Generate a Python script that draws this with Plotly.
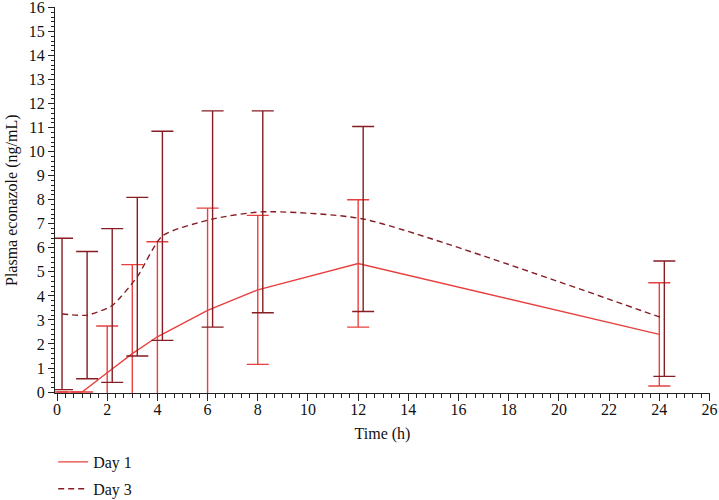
import plotly.graph_objects as go

# Data
time_day1 = [0, 1, 2, 3, 4, 6, 8, 12, 24]
mean_day1 = [0, 0, 0.8, 1.6, 2.3, 3.4, 4.25, 5.35, 2.4]
sd_day1 = [0, 0, 1.95, 3.7, 3.95, 4.25, 3.1, 2.65, 2.15]

time_day3 = [0.2, 1.2, 2.2, 3.2, 4.2, 6.2, 8.2, 12.2, 24.2]
mean_day3 = [3.25, 3.2, 3.6, 4.8, 6.5, 7.2, 7.5, 7.2, 3.05]
sd_day3 = [3.15, 2.65, 3.2, 3.3, 4.35, 4.5, 4.2, 3.85, 2.4]

x_ticks = list(range(0, 27, 2))
y_ticks = list(range(0, 17))

RED = "#e8403f"
DARK = "#861d23"
FONT = "Liberation Serif"

fig = go.Figure()
fig.add_trace(go.Scatter(
    x=time_day1, y=mean_day1, mode="lines", name="Day 1",
    line=dict(color=RED, width=1.4),
    error_y=dict(type="data", array=sd_day1, visible=True,
                 color=RED, thickness=1.4, width=11),
    legendgroup="a", cliponaxis=False,
))
fig.add_trace(go.Scatter(
    x=time_day3, y=mean_day3, mode="lines", name="Day 3",
    line=dict(color=DARK, width=1.4, dash="6px,4px", shape="spline", smoothing=0.6),
    error_y=dict(type="data", array=sd_day3, visible=True,
                 color=DARK, thickness=1.4, width=11),
    legendgroup="b", cliponaxis=False,
))

fig.update_layout(
    width=719, height=500,
    margin=dict(l=55, r=9, t=7, b=107, autoexpand=False),
    paper_bgcolor="white", plot_bgcolor="white",
    font=dict(family=FONT, size=16, color="#111"),
    showlegend=True,
    legend=dict(xref="container", yref="container", x=0.074, y=0.11,
                xanchor="left", yanchor="top",
                tracegroupgap=3, font=dict(size=16, family=FONT),
                bgcolor="rgba(0,0,0,0)"),
    annotations=[dict(text="Plasma econazole (ng/mL)", textangle=-90,
                      xref="paper", yref="paper", x=-43 / 655, y=0.5,
                      xanchor="center", yanchor="middle", showarrow=False,
                      font=dict(size=16, family=FONT, color="#111"))],
)
fig.update_xaxes(
    range=[-0.08, 26.02], tickvals=x_ticks, ticktext=[str(v) for v in x_ticks],
    showgrid=False, zeroline=False, showline=True, linecolor="#222", linewidth=1.2,
    ticks="outside", ticklen=7, tickwidth=1.2, tickcolor="#222", automargin=True,
    ticklabelstandoff=-5, ticklabeloverflow="allow",
    minor=dict(dtick=1/3, tick0=0, ticks="outside", ticklen=4, tickcolor="#222", tickwidth=1),
    title=dict(text="Time (h)", font=dict(size=16, family=FONT), standoff=10),
    tickfont=dict(size=16, family=FONT),
)
fig.update_yaxes(
    range=[-0.04, 16.02], tickvals=y_ticks, ticktext=[str(v) for v in y_ticks],
    showgrid=False, zeroline=False, showline=True, linecolor="#222", linewidth=1.2,
    ticks="outside", ticklen=6, tickwidth=1.2, tickcolor="#222", automargin=False,
    ticklabeloverflow="allow",
    minor=dict(dtick=0.2, tick0=0, ticks="outside", ticklen=3, tickcolor="#222", tickwidth=1),
    tickfont=dict(size=16, family=FONT),
)

fig.write_html("out.html", post_script="document.body.style.margin='0';",
               config={"displayModeBar": False})
